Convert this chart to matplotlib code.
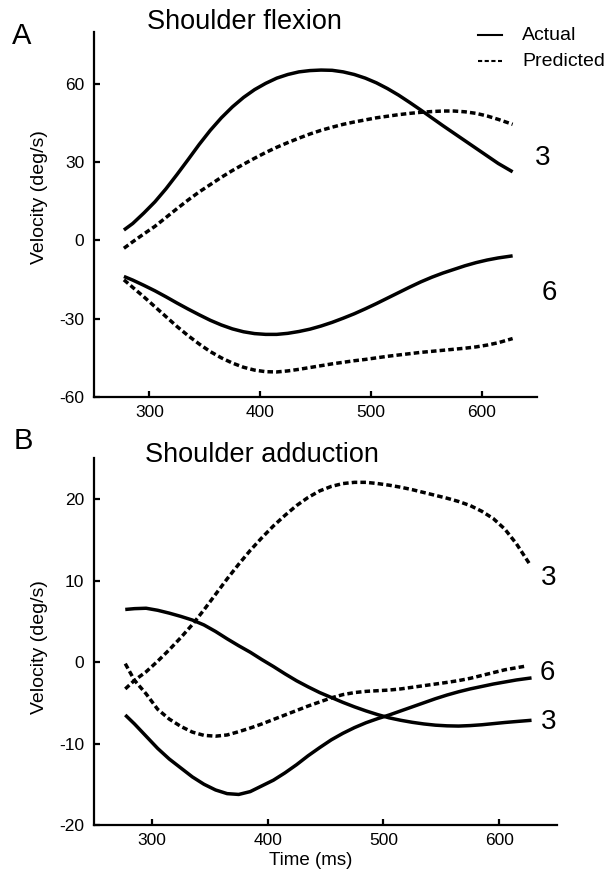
import matplotlib
matplotlib.use("Agg")
import matplotlib.pyplot as plt
from matplotlib.lines import Line2D

plt.rcParams['font.family'] = ['Liberation Sans', 'DejaVu Sans']
plt.rcParams['axes.unicode_minus'] = False

# ---- data ----
time_ms = [277, 285, 295, 305, 315, 325, 335, 345, 355, 365, 375, 385, 395, 405,
           415, 425, 435, 445, 455, 465, 475, 485, 495, 505, 515, 525, 535, 545,
           555, 565, 575, 585, 595, 605, 615, 628]

flex_actual_3 = [4.0, 6.5, 10.5, 14.8, 19.8, 25.3, 31.0, 36.8, 42.2, 47.0, 51.2, 54.8,
                 57.8, 60.2, 62.2, 63.6, 64.6, 65.1, 65.3, 65.2, 64.6, 63.6, 62.2, 60.4,
                 58.2, 55.7, 52.9, 50.0, 47.0, 44.0, 41.1, 38.2, 35.3, 32.4, 29.5, 26.3]
flex_pred_3 = [-3.0, -0.5, 2.5, 5.4, 8.8, 12.2, 15.5, 18.6, 21.4, 24.2, 26.8, 29.2,
               31.5, 33.7, 35.7, 37.5, 39.2, 40.8, 42.2, 43.4, 44.5, 45.4, 46.2, 47.0,
               47.6, 48.2, 48.7, 49.1, 49.4, 49.6, 49.6, 49.3, 48.7, 47.7, 46.4, 44.5]
flex_actual_6 = [-13.8, -15.2, -17.2, -19.3, -21.6, -24.0, -26.3, -28.5, -30.6, -32.4,
                 -33.9, -35.0, -35.7, -36.0, -36.0, -35.6, -34.9, -34.0, -32.8, -31.4,
                 -29.8, -28.1, -26.2, -24.2, -22.1, -20.0, -17.9, -15.9, -14.1, -12.5,
                 -11.1, -9.7, -8.5, -7.5, -6.7, -5.9]
flex_pred_6 = [-15.1, -18.0, -21.6, -25.4, -29.2, -33.0, -36.5, -39.7, -42.6, -45.0,
               -47.0, -48.6, -49.7, -50.3, -50.4, -50.0, -49.4, -48.7, -48.0, -47.3,
               -46.7, -46.1, -45.6, -45.0, -44.4, -43.9, -43.4, -42.9, -42.5, -42.1,
               -41.7, -41.3, -40.8, -40.1, -39.2, -37.6]

time_b_pred3 = [277, 285, 295, 305, 315, 325, 335, 345, 355, 365, 375, 385, 395, 405,
                415, 425, 435, 445, 455, 465, 475, 485, 495, 505, 515, 525, 535, 545,
                555, 565, 575, 585, 595, 605, 615, 626]
time_b_pred6 = [277, 285, 295, 305, 315, 325, 335, 345, 355, 365, 375, 385, 395, 405,
                415, 425, 435, 445, 455, 465, 475, 485, 495, 505, 515, 525, 535, 545,
                555, 565, 575, 585, 595, 605, 615, 623]

add_actual_3 = [6.45, 6.55, 6.6, 6.35, 6.0, 5.6, 5.15, 4.55, 3.75, 2.85, 2.0, 1.2, 0.3,
                -0.55, -1.45, -2.3, -3.05, -3.75, -4.35, -4.95, -5.5, -6.0, -6.45, -6.85,
                -7.15, -7.4, -7.6, -7.75, -7.83, -7.86, -7.8, -7.7, -7.56, -7.42, -7.3,
                -7.15]
add_pred_3 = [-3.3, -2.25, -1.2, 0.1, 1.5, 3.0, 4.6, 6.4, 8.3, 10.2, 12.0, 13.7, 15.25,
              16.7, 18.0, 19.2, 20.2, 21.0, 21.55, 21.9, 22.05, 22.05, 21.9, 21.7, 21.45,
              21.15, 20.8, 20.45, 20.1, 19.7, 19.2, 18.5, 17.6, 16.3, 14.5, 12.1]
add_actual_6 = [-6.5, -7.6, -9.1, -10.6, -11.9, -13.0, -14.1, -15.0, -15.7, -16.15,
                -16.25, -15.9, -15.2, -14.5, -13.6, -12.6, -11.5, -10.5, -9.55, -8.75,
                -8.05, -7.45, -6.95, -6.5, -6.0, -5.5, -5.0, -4.5, -4.05, -3.65, -3.3,
                -3.0, -2.7, -2.45, -2.2, -1.95]
add_pred_6 = [-0.2, -2.25, -3.9, -5.8, -7.0, -7.9, -8.6, -9.0, -9.1, -8.95, -8.55, -8.1,
              -7.6, -7.05, -6.5, -5.95, -5.4, -4.9, -4.4, -4.0, -3.75, -3.6, -3.52, -3.44,
              -3.3, -3.1, -2.9, -2.7, -2.5, -2.28, -2.0, -1.65, -1.3, -0.95, -0.7, -0.5]

x_ticks = [300, 400, 500, 600]
a_yticks = [-60, -30, 0, 30, 60]
b_yticks = [-20, -10, 0, 10, 20]

# ---- figure ----
W, H = 610, 871
fig = plt.figure(figsize=(W / 100, H / 100), dpi=100)

def px(x, y):
    return x / W, 1 - y / H

def make_ax(left, top, right, bottom):
    l, t = px(left, top)
    r, b = px(right, bottom)
    return fig.add_axes([l, b, r - l, t - b])

axA = make_ax(94, 31.7, 537, 397)
axB = make_ax(94, 458.3, 557, 825)

LW = 2.5
DASH = (1.6, 0.9)

def style(ax, ylim, yticks):
    ax.set_xlim(250, 650)
    ax.set_ylim(*ylim)
    ax.set_xticks(x_ticks)
    ax.set_yticks(yticks)
    for s in ('top', 'right'):
        ax.spines[s].set_visible(False)
    for s in ('left', 'bottom'):
        ax.spines[s].set_linewidth(1.6)
    ax.tick_params(direction='in', length=4, width=1.6, labelsize=12.5, pad=7)
    ax.tick_params(axis='x', pad=6)
    ax.patch.set_visible(False)

def solid(ax, t, v):
    ax.plot(t, v, color='black', lw=LW, solid_capstyle='butt', solid_joinstyle='round')

def dashed(ax, t, v):
    ax.plot(t, v, color='black', lw=LW, linestyle=(0, DASH), dash_capstyle='butt')

solid(axA, time_ms, flex_actual_3)
dashed(axA, time_ms, flex_pred_3)
solid(axA, time_ms, flex_actual_6)
dashed(axA, time_ms, flex_pred_6)
style(axA, (-60, 80), a_yticks)

solid(axB, time_ms, add_actual_3)
dashed(axB, time_b_pred3, add_pred_3)
solid(axB, time_ms, add_actual_6)
dashed(axB, time_b_pred6, add_pred_6)
style(axB, (-20, 25), b_yticks)

# ---- texts ----
def ftext(x, y, s, **kw):
    fx, fy = px(x, y)
    fig.text(fx, fy, s, **kw)

ftext(22, 36, 'A', fontsize=21, ha='center', va='center')
ftext(23, 441, 'B', fontsize=21, ha='center', va='center')
ftext(147, 22, 'Shoulder flexion', fontsize=19.5, ha='left', va='center')
ftext(145, 455, 'Shoulder adduction', fontsize=19.5, ha='left', va='center')

ftext(39, 197, 'Velocity (deg/s)', fontsize=14, rotation=90, ha='center', va='center')
ftext(39, 647, 'Velocity (deg/s)', fontsize=14, rotation=90, ha='center', va='center')
ftext(311, 860, 'Time (ms)', fontsize=13.5, ha='center', va='center')

# curve number labels
ftext(543, 158, '3', fontsize=20, ha='center', va='center')
ftext(549, 293, '6', fontsize=20, ha='center', va='center')
ftext(549, 578, '3', fontsize=20, ha='center', va='center')
ftext(547, 673, '6', fontsize=20, ha='center', va='center')
ftext(549, 722, '3', fontsize=20, ha='center', va='center')

# legend
legend_labels = ['Actual', 'Predicted']
for i, (lab, ls) in enumerate(zip(legend_labels, ['-', (0, (2.0, 1.2))])):
    y = 35 + 26 * i
    x0, y0 = px(478, y)
    x1, _ = px(502, y)
    fig.add_artist(Line2D([x0, x1], [y0, y0], transform=fig.transFigure,
                          color='black', lw=1.5, linestyle=ls, dash_capstyle='butt'))
    ftext(522, y, lab, fontsize=14, ha='left', va='center')

fig.savefig('out.png', dpi=100)
